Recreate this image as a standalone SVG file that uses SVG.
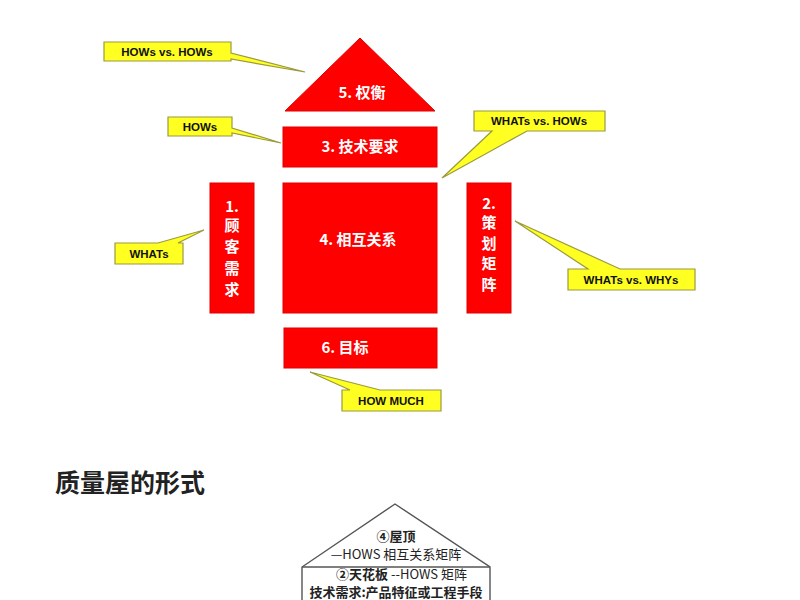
<svg xmlns="http://www.w3.org/2000/svg" width="800" height="600" viewBox="0 0 800 600">
<style>
.red{fill:#ff0000;stroke:#e00000;stroke-width:1}
.wt{fill:#ffffff;font-family:"Noto Sans CJK SC","Liberation Sans",sans-serif;font-weight:bold;font-size:15px;text-anchor:middle}
.co{fill:#ffff22;stroke:#9a9a40;stroke-width:1.2;stroke-linejoin:miter}
.ct{fill:#111;font-family:"Liberation Sans",Arial,sans-serif;font-weight:bold;font-size:11.5px;text-anchor:middle}
.hs{fill:none;stroke:#555;stroke-width:1.4}
.ht{fill:#222;font-family:"Noto Sans CJK SC",sans-serif;font-size:13px;text-anchor:middle}
</style>
<rect width="800" height="600" fill="#ffffff"/>
<g id="node5"><polygon class="red" points="360,38 285,111 435,111"/><text class="wt" x="362" y="98">5. 权衡</text></g>
<g id="node3"><rect class="red" x="283" y="127" width="154" height="40"/><text class="wt" x="360" y="152">3. 技术要求</text></g>
<g id="node4"><rect class="red" x="283" y="183" width="154" height="130"/><text class="wt" x="358" y="245">4. 相互关系</text></g>
<g id="node1"><rect class="red" x="210" y="183" width="44" height="130"/>
<text class="wt" x="232" y="212">1.</text><text class="wt" x="232" y="231">顾</text><text class="wt" x="232" y="252">客</text><text class="wt" x="232" y="274">需</text><text class="wt" x="232" y="295">求</text></g>
<g id="node2"><rect class="red" x="467" y="183" width="44" height="130"/>
<text class="wt" x="489" y="209">2.</text><text class="wt" x="489" y="228">策</text><text class="wt" x="489" y="249">划</text><text class="wt" x="489" y="269">矩</text><text class="wt" x="489" y="290">阵</text></g>
<g id="node6"><rect class="red" x="284" y="328" width="153" height="40"/><text class="wt" x="345" y="353">6. 目标</text></g>
<g id="connectors">
<g id="c1"><path class="co" d="M104,42 H231 V53 L305,72 L231,59 V61 H104 Z"/><text class="ct" x="167" y="56">HOWs vs. HOWs</text></g>
<g id="c2"><path class="co" d="M168,117 H232 V128 L281,143 L232,133 V136 H168 Z"/><text class="ct" x="200" y="131">HOWs</text></g>
<g id="c3"><path class="co" d="M474,111 H605 V131 H527 L442,178 L492,131 H474 Z"/><text class="ct" x="539" y="125">WHATs vs. HOWs</text></g>
<g id="c4"><path class="co" d="M115,243 H158 L204,230 L178,243 H183 V264 H115 Z"/><text class="ct" x="149" y="258">WHATs</text></g>
<g id="c5"><path class="co" d="M568,269 H588 L515,221 L620,269 H695 V290 H568 Z"/><text class="ct" x="631" y="284">WHATs vs. WHYs</text></g>
<g id="c6"><path class="co" d="M342,390 H350 L310,372 L380,390 H441 V411 H342 Z"/><text class="ct" x="391" y="405">HOW MUCH</text></g>
</g>
<text x="55" y="492" font-family="Noto Sans CJK SC,sans-serif" font-size="25" font-weight="bold" fill="#222">质量屋的形式</text>
<g id="house">
<path class="hs" d="M302,600 V567 L395,504 L490,567 V600"/>
<line class="hs" x1="302" y1="567" x2="490" y2="567"/>
<text class="ht" x="396" y="541" font-weight="bold">④屋顶</text>
<text class="ht" x="396" y="559" fill="#666" font-size="13.5">—HOWS 相互关系矩阵</text>
<text class="ht" x="362" y="579" font-size="11" font-weight="bold">②天花板</text>
<text class="ht" x="429" y="579" font-size="11" fill="#555">--HOWS 矩阵</text>
<text class="ht" x="396" y="597" font-weight="bold" font-size="8.5">技术需求:产品特征或工程手段</text>
</g>
</svg>
